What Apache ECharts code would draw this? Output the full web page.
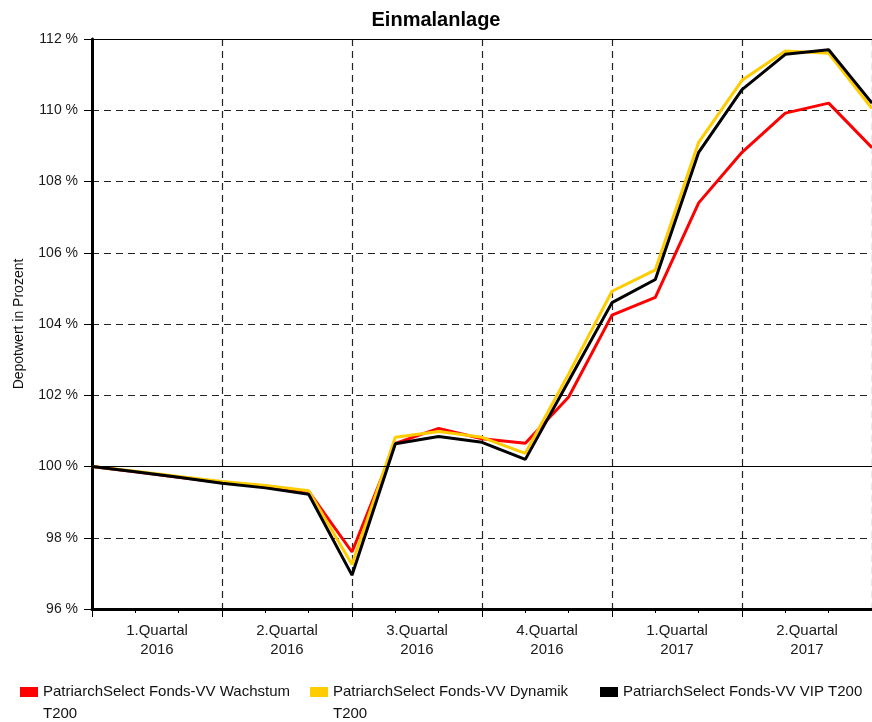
<!DOCTYPE html>
<html>
<head>
<meta charset="utf-8">
<script src="https://cdn.jsdelivr.net/npm/echarts@6/dist/echarts.min.js"></script>
<style>
  html, body { margin: 0; padding: 0; background: #fff; }
  #chart { width: 872px; height: 722px; }
</style>
</head>
<body>
<div id="chart"></div>
<script>
// Month index 0..18 (Jan 2016 start .. Jul 2017)
const months = [0,1,2,3,4,5,6,7,8,9,10,11,12,13,14,15,16,17,18];
const quarterLabels = ['1.Quartal\n2016','2.Quartal\n2016','3.Quartal\n2016','4.Quartal\n2016','1.Quartal\n2017','2.Quartal\n2017'];
const yTicks = [96, 98, 100, 102, 104, 106, 108, 110, 112];

const nameWachstum = 'PatriarchSelect Fonds-VV Wachstum T200';
const nameDynamik  = 'PatriarchSelect Fonds-VV Dynamik T200';
const nameVIP      = 'PatriarchSelect Fonds-VV VIP T200';

const wachstum = [100.0, 99.85, 99.7, 99.55, 99.45, 99.3, 97.6, 100.65, 101.07, 100.78, 100.65, 101.95, 104.25, 104.75, 107.4, 108.82, 109.92, 110.2, 108.95];
const dynamik  = [100.0, 99.87, 99.72, 99.58, 99.47, 99.32, 97.25, 100.82, 100.98, 100.82, 100.37, 102.6, 104.92, 105.52, 109.1, 110.84, 111.66, 111.6, 110.05];
const vip      = [100.0, 99.85, 99.7, 99.53, 99.4, 99.22, 96.95, 100.64, 100.84, 100.68, 100.2, 102.4, 104.6, 105.25, 108.82, 110.58, 111.57, 111.7, 110.2];

const FONT = "'Liberation Sans', Arial, sans-serif";

function pairs(vals) { return months.map((m, i) => [m, vals[i]]); }

const chart = echarts.init(document.getElementById('chart'), null, { renderer: 'canvas' });

// icon with the coloured box in the upper part, so it lines up with the first text line
const topBoxIcon = 'path://M0,0L18,0L18,10L0,10Z M0,32L0.05,32L0.05,32.05Z';

function legendFor(name, left, twoLines) {
  return {
    data: [name],
    left: left,
    top: 681,
    padding: 0,
    icon: twoLines ? topBoxIcon : 'rect',
    symbolKeepAspect: false,
    itemWidth: 18,
    itemHeight: twoLines ? 32 : 10,
    itemGap: 0,
    selectedMode: false,
    formatter: function (n) {
      if (!twoLines) return n;
      const idx = n.lastIndexOf(' T200');
      return n.slice(0, idx) + '\n' + 'T200';
    },
    textStyle: { fontFamily: FONT, fontSize: 15, color: '#111', lineHeight: 22 }
  };
}

const option = {
  animation: false,
  backgroundColor: '#fff',
  title: {
    text: 'Einmalanlage',
    left: 'center',
    top: 5,
    textStyle: { fontFamily: FONT, fontSize: 20, fontWeight: 'bold', color: '#000' }
  },
  legend: [
    legendFor(nameWachstum, 20, true),
    legendFor(nameDynamik, 310, true),
    legendFor(nameVIP, 600, false)
  ],
  grid: { left: 92, right: 0, top: 39, bottom: 113, containLabel: false },
  xAxis: [
    {
      type: 'value', min: 0, max: 18, interval: 3,
      axisLine: { show: true, lineStyle: { color: '#000', width: 3 } },
      axisTick: { show: true, length: 8, lineStyle: { color: '#000', width: 1 } },
      minorTick: { show: true, splitNumber: 3, length: 4, lineStyle: { color: '#000', width: 1 } },
      axisLabel: { show: false },
      splitLine: { show: true, lineStyle: { color: '#222', width: 1.2, type: [7, 5] } }
    },
    {
      type: 'category', data: quarterLabels, position: 'bottom', boundaryGap: true,
      axisLine: { show: false }, axisTick: { show: false }, splitLine: { show: false },
      axisLabel: { fontFamily: FONT, fontSize: 15, color: '#1a1a1a', lineHeight: 19, margin: 12 }
    }
  ],
  yAxis: {
    type: 'value', min: 96, max: 112, interval: 2,
    name: 'Depotwert in Prozent', nameLocation: 'middle', nameGap: 66,
    nameTextStyle: { fontFamily: FONT, fontSize: 14, color: '#111' },
    axisLine: { show: true, lineStyle: { color: '#000', width: 3 } },
    axisTick: { show: true, length: 8, lineStyle: { color: '#000', width: 1 } },
    axisLabel: { fontFamily: FONT, fontSize: 14, color: '#1a1a1a', margin: 14, formatter: '{value} %' },
    splitLine: { show: true, lineStyle: { color: '#222', width: 1.2, type: [7, 5] } }
  },
  series: [
    {
      name: nameWachstum, type: 'line', data: pairs(wachstum), showSymbol: false, symbol: 'none',
      lineStyle: { color: '#ff0000', width: 3 }, itemStyle: { color: '#ff0000' },
      markLine: {
        silent: true, symbol: 'none', label: { show: false },
        lineStyle: { color: '#000', width: 1.2, type: 'solid' },
        data: [{ yAxis: 100 }, { yAxis: 112 }]
      }
    },
    {
      name: nameDynamik, type: 'line', data: pairs(dynamik), showSymbol: false, symbol: 'none',
      lineStyle: { color: '#ffcc00', width: 3 }, itemStyle: { color: '#ffcc00' }
    },
    {
      name: nameVIP, type: 'line', data: pairs(vip), showSymbol: false, symbol: 'none',
      lineStyle: { color: '#000000', width: 3 }, itemStyle: { color: '#000000' }
    }
  ]
};

chart.setOption(option);
</script>
</body>
</html>
